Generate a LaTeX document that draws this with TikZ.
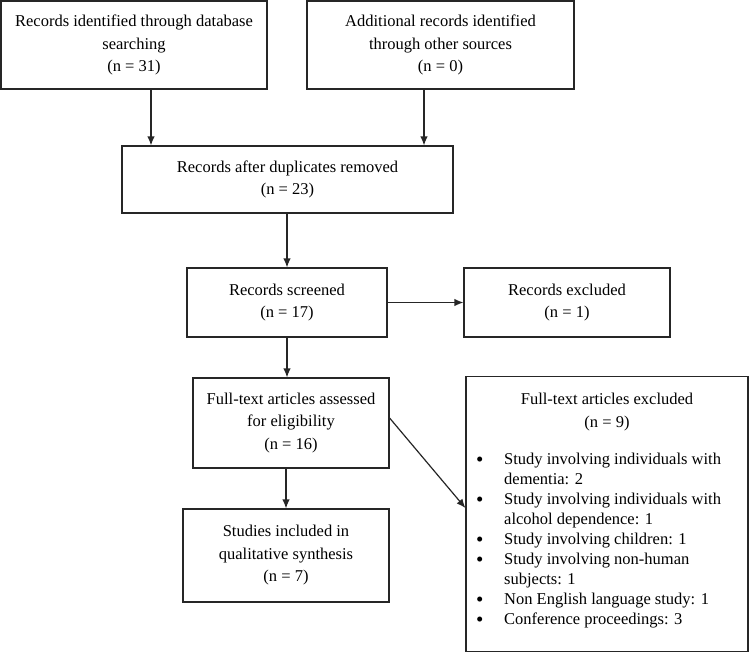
\documentclass[tikz,border=0pt]{standalone}
\usepackage{fontspec}
\setmainfont{Liberation Serif}
\usetikzlibrary{arrows.meta,calc}
\newcommand{\bigbul}{\raisebox{-1.8pt}[0pt][0pt]{\fontsize{21}{20}\selectfont\textbullet}}
\begin{document}
\begin{tikzpicture}[x=1pt,y=-1pt,
  box/.style={draw=black!85,line width=1.2pt,inner sep=0pt,align=center,
    font=\fontsize{16.5}{22.5}\selectfont},
  arr/.style={draw=black!85,line width=1.2pt,-{Latex[length=9pt,width=7.5pt]}},
  txt/.style={inner sep=0pt,align=center,font=\fontsize{16.5}{23}\selectfont}]
\useasboundingbox (0,0) rectangle (750,653);
\fill[white] (0,0) rectangle (750,653);
\node[box,minimum width=266pt,minimum height=88pt] (b1) at (134,45)
  {Records identified through database\\searching\\(n = 31)};
\node[box,minimum width=267pt,minimum height=88pt] (b2) at (440.5,45)
  {Additional records identified\\through other sources\\(n = 0)};
\node[box,minimum width=331pt,minimum height=67pt] (b3) at (287.5,179.5)
  {Records after duplicates removed\\(n = 23)};
\node[box,minimum width=200pt,minimum height=69pt] (b4) at (287,302.5)
  {Records screened\\(n = 17)};
\node[box,minimum width=206pt,minimum height=69pt] (b5) at (567,302.5)
  {Records excluded\\(n = 1)};
\node[box,minimum width=196pt,minimum height=90pt] (b6) at (291,423)
  {Full-text articles assessed\\for eligibility\\(n = 16)};
\node[box,minimum width=206pt,minimum height=93pt] (b7) at (286,555.5)
  {Studies included in\\qualitative synthesis\\(n = 7)};
\node[box,minimum width=282pt,minimum height=275pt] (b8) at (607,514) {};
\node[txt,anchor=base] (t8) at (607,427)
  {Full-text articles excluded\\(n = 9)};
\node[inner sep=0pt,anchor=north west,font=\fontsize{16.5}{20}\selectfont] (l8) at (476,450)
  {\begin{tabular}{@{}p{28pt}@{}l@{}}
  \bigbul & Study involving individuals with\\
   & dementia: 2\\
  \bigbul & Study involving individuals with\\
   & alcohol dependence: 1\\
  \bigbul & Study involving children: 1\\
  \bigbul & Study involving non-human\\
   & subjects: 1\\
  \bigbul & Non English language study: 1\\
  \bigbul & Conference proceedings: 3
  \end{tabular}};
\coordinate (xA) at (151,0);
\coordinate (xB) at (424,0);
\draw[arr] (b1.south -| xA) -- (b3.north -| xA);
\draw[arr] (b2.south -| xB) -- (b3.north -| xB);
\draw[arr] (b3.south -| b4.north) -- (b4.north);
\draw[arr] (b4.east) -- (b5.west);
\draw[arr] (b4.south) -- (b6.north -| b4.south);
\draw[arr] ($(b6.east)+(0,-5)$) -- ($(b8.west)+(0,-6)$);
\draw[arr] (b6.south -| b7.north) -- (b7.north);
\end{tikzpicture}
\end{document}
